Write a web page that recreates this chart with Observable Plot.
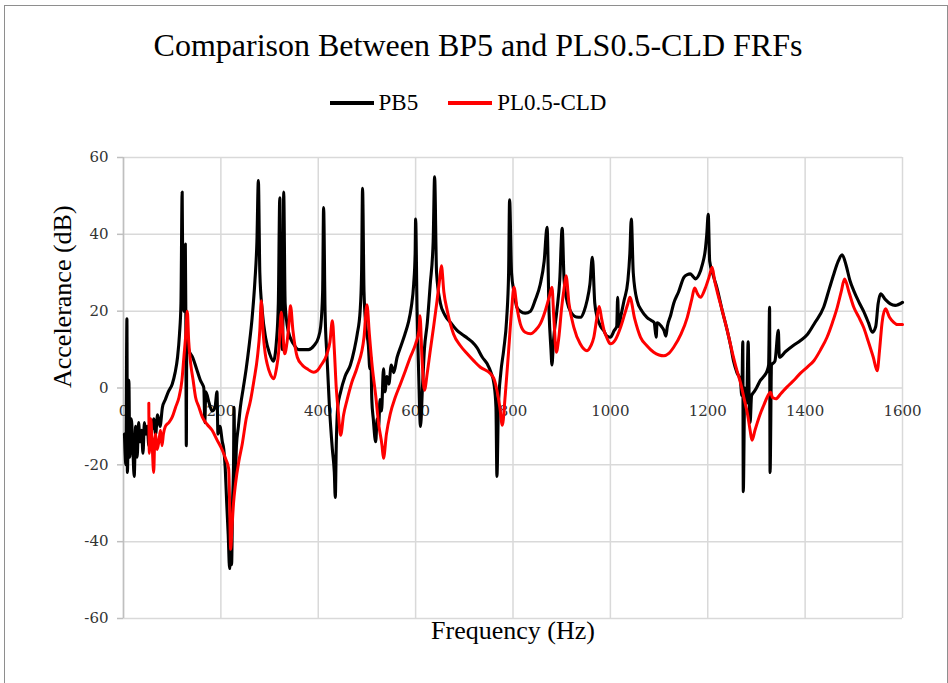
<!DOCTYPE html>
<html><head><meta charset="utf-8">
<script src="https://cdn.jsdelivr.net/npm/d3@7"></script>
<script src="https://cdn.jsdelivr.net/npm/@observablehq/plot@0.6"></script>
<style>
body{margin:0;background:#fff;}
#wrap{position:relative;width:948px;height:683px;overflow:hidden;font-family:"Liberation Serif","Times New Roman",serif;color:#000;}
#frame{position:absolute;left:4px;top:5px;width:944px;height:700px;border:1px solid #8e8e8e;box-sizing:border-box;}
#title{position:absolute;left:4px;top:25px;width:948px;text-align:center;font-size:32px;line-height:40px;}
#legend{position:absolute;left:-6px;top:88px;width:948px;display:flex;justify-content:center;align-items:center;font-size:23px;line-height:30px;}
.item{display:flex;align-items:center;margin:0 15px;}
.sw{display:inline-block;width:44px;height:4px;margin-right:5px;}
#chart{position:absolute;left:0;top:140px;}
</style></head>
<body><div id="wrap"><div id="frame"></div><div id="title"></div><div id="legend"></div><div id="chart"></div></div>
<script>
const titleText = "Comparison Between BP5 and PLS0.5-CLD FRFs";
const seriesNames = ["PB5", "PL0.5-CLD"];
const seriesColors = ["#000000", "#ff0000"];
const xLabel = "Frequency (Hz)";
const yLabel = "Accelerance (dB)";
const xTicks = [0, 200, 400, 600, 800, 1000, 1200, 1400, 1600];
const yTicks = [-60, -40, -20, 0, 20, 40, 60];

const pb5Freq = [2,5,7,8,11,13,16,19,22,25,28,31,34,37,40,43,46,49,52,55,58,62,66,70,75,80,86,92,100,106,111,115,118,120.5,122,124,126,127,128,129,130,134,142,150,158,162,165,167,169,176,182,188,192,194,198,203,206,209,212,215,218,220,222,224,226,227,229,232,236,240,246,252,258,264,270,274,277,280,285,292,300,308,314,318,321,324,326,328,329,332,338,349,360,370,380,391,400,405,409,411,414,418,423,429,433,435,437,440,446,455,466,474,480,486,489,491,494,498,503,506,508,510,513,518,521,524,527,530,534,537,541,545,550,555,562,570,578,585,591,596,599,600,603,606,610,614,618,624,630,636,639,643,651,660,672,685,695,706,716,726,737,747,755,761,765,767,770,775,781,787,791,793,797,802,808,815,825,836,846,856,864,870,874,878,880,883,890,896,901,905,912,918,930,939,946,952,958,963,968,973,980,986,993,1000,1008,1013,1015,1017,1022,1028,1036,1040,1043,1047,1055,1065,1075,1085,1090,1094,1096,1105,1110,1114,1117,1124,1130,1140,1151,1158,1164,1170,1175,1182,1189,1195,1198,1201,1204,1212,1219,1230,1240,1247,1253,1260,1267,1270,1272,1273,1276,1280,1283,1285,1287,1290,1295,1300,1308,1315,1322,1325,1327,1328,1331,1338,1345,1347,1360,1375,1390,1405,1420,1438,1450,1459,1468,1476,1484,1492,1500,1510,1520,1530,1538,1545,1550,1555,1565,1575,1585,1600];
const pb5Db = [-12,-20,18,-22,2,-18,-8,-15,-23,-10,-18,-9,-14,-11,-17,-9,-12,-10,-15,-9,-11,-8,-12,-7,-10,-5,-3,-1,1,4,8,14,22,51,25,20,30,37.5,20,-15,14,10,8,5,2,1,0,-9,-1,-4,-6,-5,-1,-12,-10,-14,-16,-21,-30,-38,-47,-35,-46,-30,-20,-5,-25,-15,-10,-5,0,5,11,18,28,38,54,30,20,13,9,7,12,22,49.5,15,10,25,51,22,15,11.5,10,10,10,11,13,16,25,47,20,8,-5,-16,-22,-28.5,-15,-5,-1,3,6,10,14,20,30,52,25,16,11,5,8,-3,-8,-14,-8,-10,-3,-6,5,-1,3,1,6,4,8,11,14,17,21,27,35,44,20,5,-10,0,10,17,27,38,55,30,22,19,17,15,14,13,12,10.5,8,6.3,4,1,-5,-23,-5,4,10,18,30,49,30,25,21,20,19.5,20,23,27,33,41.8,20,10,6,12,20,28,41.6,28,22,20,18.5,18.4,20,22.7,27,34,22,18.4,16,15,13.5,13.2,15,16,23.6,16,19,22.7,28,35,44,30,22.7,20,18.4,17.5,17,13.2,17,16,15,13.5,16,19,22,25,28.8,29.5,29.7,29,28.4,29.5,32.2,36,40,45.2,33,29,26,20,15,11,7,4,2,-2,12,-27,0,-4,12,-2,-9,-2,-1,0,2,3,4.5,6,21,-22,6,7,15,8,9.5,11,12.3,14,17,21,26,29.7,33,34.7,32,28,25.3,22.5,20,17,14.5,16,22,24.5,23,21.9,21.5,22.3];

const plFreq = [52,53,56,59,62,64,66,69,73,76,79,82,86,93,100,107,114,120,124,128,131,134,138,143,148,155,162,172,182,192,203,210,216,218,220,223,226,230,237,244,252,261,268,275,280,283,287,291,295,302,309,314,319,324,328,331,336,340,343,348,357,367,377,391,398,405,418,424,429,433,437,441,446,452,459,469,480,494,500,505,511,518,524,531,534,540,548,558,569,579,589,600,607,609,613,618,624,630,637,644,650,653,658,665,678,692,706,720,733,754,762,767,773,778,784,791,797,802,808,815,825,836,846,856,866,875,880,884,889,894,900,905,909,915,925,938,952,960,966,972,977,982,987,993,1000,1010,1021,1030,1036,1040,1050,1062,1075,1089,1100,1110,1120,1130,1145,1158,1167,1173,1179,1185,1195,1203,1209,1214,1219,1230,1240,1250,1260,1268,1274,1282,1287,1291,1297,1308,1315,1322,1329,1333,1340,1350,1363,1377,1390,1405,1418,1432,1445,1456,1466,1474,1481,1490,1500,1510,1520,1530,1540,1548,1553,1558,1565,1573,1582,1590,1600];
const plDb = [-4,-17,-8,-15,-22,-14,-12,-16,-13.6,-11,-15,-12,-10,-9,-7.6,-5,-2.4,2,8,14,20,12,6.3,2,-2.4,-5,-7.6,-9.5,-11,-13.5,-16.2,-18.5,-21,-30,-42,-36,-30,-25,-19,-14.5,-8,-3.2,2,8,15,22.7,14,9,6.3,3.5,2.4,5,9.7,19.7,13,8.9,12,17,21.4,15,8,6,5,4.1,4.5,5.8,8.9,12,17.5,10,0,-6,-12.3,-7,-3.2,1.5,5.4,13.2,21.7,14,5.4,-2,-9.3,-15,-18.3,-12,-6.7,-2.5,1.1,4.5,8,11.5,15,18.8,8,-0.6,4,9.7,16,22.7,29,31.8,25,20.1,14,11,8.9,7,5.4,3.7,2,-0.6,-5,-9.7,-2,9.7,20,26.2,21,16.7,14.5,14.1,15,16.7,20,24,26.2,18,9.3,13,21,26,29.2,22,15.8,11.5,9.7,11,13.2,18,21.2,18,15,13,11.5,12.5,15.8,19.5,22,23.6,18,13.2,11,9.3,8.6,8.4,9,10.6,14,18.4,23,26,24.5,23.6,26,29,31.4,28,25.3,20,15,9.5,4.5,1,-2.4,-7,-11,-13.6,-11,-6.7,-4.5,-2.4,-1.1,-2.5,-2.8,-1.5,0.3,2,3.8,5.5,7.1,10,13.2,17,21,25,28.4,25,21,18.5,15.8,12,8,4.5,10,17,20.6,18.5,17.1,16.5,16.5];

document.getElementById("title").textContent = titleText;
const legend = document.getElementById("legend");
seriesNames.forEach((n, i) => {
  const it = document.createElement("div"); it.className = "item";
  const sw = document.createElement("span"); sw.className = "sw"; sw.style.background = seriesColors[i];
  const tx = document.createElement("span"); tx.textContent = n;
  it.appendChild(sw); it.appendChild(tx); legend.appendChild(it);
});

const pb5 = pb5Freq.map((f, i) => ({f, db: pb5Db[i]}));
const pl = plFreq.map((f, i) => ({f, db: plDb[i]}));
const tickFont = "DejaVu Serif";

const chart = Plot.plot({
  width: 948, height: 543,
  marginTop: 17, marginBottom: 65, marginLeft: 123, marginRight: 46,
  x: {domain: [0, 1600], axis: null},
  y: {domain: [-60, 60], axis: null},
  style: {background: "transparent", color: "#333"},
  marks: [
    Plot.gridX(xTicks, {stroke: "#d9d9d9", strokeOpacity: 1, strokeWidth: 1.5}),
    Plot.gridY(yTicks, {stroke: "#d9d9d9", strokeOpacity: 1, strokeWidth: 1.5}),
    Plot.ruleX([0], {stroke: "#bfbfbf", strokeWidth: 1.5}),
    Plot.axisY(yTicks, {tickSize: 6, tickPadding: 9, stroke: "#bfbfbf", strokeWidth: 1.5, fill: "#333", fontSize: 15, fontFamily: tickFont, label: null, tickFormat: d => String(d)}),
    Plot.text(xTicks, {x: d => d, y: () => 0, dy: 23, text: d => String(d), fontSize: 15, fontFamily: tickFont, fill: "#333"}),
    Plot.text([xLabel], {frameAnchor: "bottom", dy: 20, fontSize: 26, fontFamily: "Liberation Serif", fill: "#000"}),
    Plot.text([yLabel], {frameAnchor: "left", rotate: -90, dx: -61, fontSize: 26, fontFamily: "Liberation Serif", fill: "#000"}),
    Plot.line(pb5, {x: "f", y: "db", stroke: seriesColors[0], strokeWidth: 3.1, strokeLinejoin: "round", curve: "monotone-x"}),
    Plot.line(pl, {x: "f", y: "db", stroke: seriesColors[1], strokeWidth: 3, strokeLinejoin: "round", curve: "monotone-x"})
  ]
});
document.getElementById("chart").appendChild(chart);
</script></body></html>
